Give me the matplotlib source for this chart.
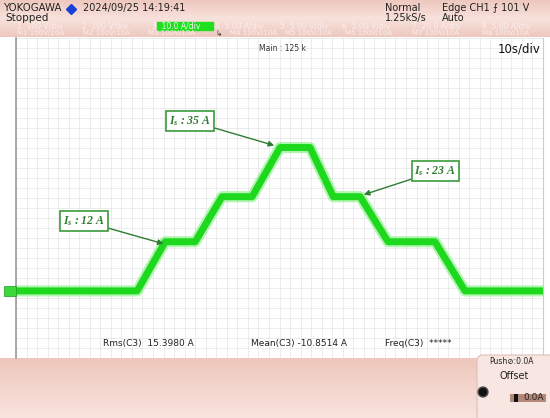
import numpy as np
import matplotlib
matplotlib.use("Agg")
import matplotlib.pyplot as plt
from matplotlib.patches import Rectangle, FancyBboxPatch, Circle

plt.rcParams['font.family'] = ['Liberation Sans Narrow', 'DejaVu Sans']
plt.rcParams['mathtext.fontset'] = 'custom'
plt.rcParams['mathtext.it'] = 'Liberation Serif:italic:bold'
plt.rcParams['mathtext.rm'] = 'Liberation Serif:italic:bold'

# ---- data ----
time_s = [0, 23.0, 28.3, 34.0, 39.1, 44.8, 50.1, 55.8, 60.2, 65.3, 70.6, 79.5, 85.2, 100]
current_a = [0, 0, 12, 12, 23, 23, 35, 35, 23, 23, 12, 12, 0, 0]
labels_text = ["$I_s$ : 12 A", "$I_s$ : 35 A", "$I_s$ : 23 A"]
label_targets_t = [28.0, 49.0, 66.0]
label_targets_i = [11.5, 35.5, 23.5]
channels = ["1  100 V/div", "2  100 V/div", "3  10.0 A/div", "4  5.00 A/div",
            "5  5.00 V/div", "6  5.00 V/div", "7  20.0 A/div", "8  5.00 A/div"]
maths = ["M1 100V/10A", "M2 100V/10A", "M3 100V/10A", "M4 100V/10A",
         "M5 100V/10A", "M6 100V/10A", "M7 100V/10A", "M8 100V/10A"]

W, H = 550, 418
fig = plt.figure(figsize=(5.5, 4.18), dpi=100)

# background axes in pixel coordinates
bg = fig.add_axes([0, 0, 1, 1])
bg.set_xlim(0, W); bg.set_ylim(H, 0); bg.axis('off')
bg.set_zorder(0)

def vgrad(ax, y0, y1, x0, x1, c_top, c_mid, c_bot, z=0):
    n = 64
    t = np.linspace(0, 1, n)[:, None]
    ct, cm, cb = [np.array(c) / 255 for c in (c_top, c_mid, c_bot)]
    img = np.where(t < 0.5, ct + (cm - ct) * (t / 0.5), cm + (cb - cm) * ((t - 0.5) / 0.5))
    img = np.repeat(img[:, None, :], 2, axis=1)
    ax.imshow(img, extent=[x0, x1, y1, y0], aspect='auto', zorder=z, interpolation='bilinear')

bg.add_patch(Rectangle((0, 0), W, H, color='white', zorder=-1))
vgrad(bg, 0, 37, 0, W, (238, 200, 190), (248, 226, 220), (238, 200, 190))
vgrad(bg, 358, H, 0, W, (238, 198, 188), (244, 214, 206), (248, 228, 222))
bg.set_xlim(0, W); bg.set_ylim(H, 0)

# header text
bg.text(4, 8, "YOKOGAWA", fontsize=7.3, color='#222222', va='center', ha='left')
bg.plot([71], [8.5], marker='D', color='#1a3fd6', markersize=5)
bg.text(83, 8, "2024/09/25 14:19:41", fontsize=7, color='#222222', va='center', ha='left')
bg.text(5, 18, "Stopped", fontsize=7.5, color='#222222', va='center', ha='left')
bg.text(385, 8, "Normal", fontsize=7, color='#222222', va='center', ha='left')
bg.text(385, 18, "1.25kS/s", fontsize=7, color='#222222', va='center', ha='left')
bg.text(442, 8, "Edge CH1 \u2A0D 101 V", fontsize=7, color='#222222', va='center', ha='left')
bg.text(442, 18, "Auto", fontsize=7, color='#222222', va='center', ha='left')

xs = [17, 82, 152, 215, 280, 342, 412, 482]
xs_m = [17, 83, 148, 230, 285, 345, 412, 482]
for i, (x, xm, ch, m) in enumerate(zip(xs, xs_m, channels, maths)):
    if i == 2:
        bg.add_patch(Rectangle((x + 5, 22), 56, 8, color='#1ee01e', zorder=2))
        bg.text(x, 26, ch, fontsize=5.5, color='#f8f8f8', va='center', ha='left', zorder=3)
    else:
        bg.text(x, 26, ch, fontsize=5.5, color='#fbeeea', va='center', ha='left', zorder=3)
    bg.text(xm, 33, m, fontsize=5, color='#fbeeea', va='center', ha='left', zorder=3)
bg.text(219, 34.5, "\u21B3", fontsize=5.5, color='#333333', va='center', ha='center', zorder=3)

# ---- scope axes ----
px_per_a = 4.096
base_pix = 290.9
top_pix, bot_pix, left_pix, right_pix = 38, 358, 16, 543
ymax = (base_pix - top_pix) / px_per_a
ymin = -(bot_pix - base_pix) / px_per_a
ax = fig.add_axes([left_pix / W, (H - bot_pix) / H, (right_pix - left_pix) / W, (bot_pix - top_pix) / H])
ax.set_zorder(1)
ax.set_facecolor('white')
ax.set_xlim(0, 100)
ax.set_ylim(ymin, ymax)
for x in np.arange(0, 100.01, 2):
    ax.axvline(x, color='#e4e4e4', lw=0.5, zorder=0)
for frac in np.linspace(0, 1, 33):
    ax.axhline(ymin + frac * (ymax - ymin), color='#e4e4e4', lw=0.5, zorder=0)
ax.set_xticks([]); ax.set_yticks([])
for s in ax.spines.values():
    s.set_visible(False)
ax.spines['left'].set_visible(True)
ax.spines['left'].set_color('#999999')
ax.spines['left'].set_linewidth(1.2)
ax.spines['right'].set_visible(True)
ax.spines['right'].set_color('#cccccc')

ax.plot(time_s, current_a, color='#7ef07e', lw=8, alpha=0.6, solid_joinstyle='round', zorder=3)
ax.plot(time_s, current_a, color='#1ed81e', lw=5, solid_joinstyle='round', zorder=4)

ax.text(0.505, 0.982, "Main : 125 k", transform=ax.transAxes, fontsize=5.5, color='#333333', ha='center', va='top')
ax.text(0.995, 0.985, "10s/div", transform=ax.transAxes, fontsize=8.5, color='#111111', ha='right', va='top')

ax.text(0.165, 0.045, "Rms(C3)  15.3980 A", transform=ax.transAxes, fontsize=6.5, color='#222222', ha='left', va='center')
ax.text(0.445, 0.045, "Mean(C3) -10.8514 A", transform=ax.transAxes, fontsize=6.5, color='#222222', ha='left', va='center')
ax.text(0.70, 0.045, "Freq(C3)  *****", transform=ax.transAxes, fontsize=6.5, color='#222222', ha='left', va='center')

# label boxes (text positions in data coords)
box_t = [12.9, 33.1, 79.6]
box_i = [17.0, 41.5, 29.2]
for txt, bt, bi, tt, ti in zip(labels_text, box_t, box_i, label_targets_t, label_targets_i):
    ax.annotate(txt, xy=(tt, ti), xytext=(bt, bi), textcoords='data',
                fontsize=8.5, color='#2f7d32', family='Liberation Serif', style='italic', weight='bold',
                ha='center', va='center', zorder=6,
                bbox=dict(boxstyle='square,pad=0.25', fc='white', ec='#3c9a3c', lw=1.2),
                arrowprops=dict(arrowstyle='-|>', color='#2f7d32', lw=1.0, mutation_scale=8,
                                shrinkA=0, shrinkB=0))

# overlay axes for the channel marker and offset panel
ov = fig.add_axes([0, 0, 1, 1])
ov.set_xlim(0, W); ov.set_ylim(H, 0); ov.axis('off')
ov.set_zorder(2)
ov.patch.set_alpha(0)
ov.add_patch(Rectangle((4, base_pix - 5), 12, 10, facecolor='#3bd83b', edgecolor='#1a9a1a', lw=0.5, zorder=3))
ov.add_patch(FancyBboxPatch((477, 355), 80, 70, boxstyle="round,pad=0,rounding_size=6",
                            facecolor='#f7e6e1', edgecolor='#e0c0b8', lw=0.8, zorder=4))
ov.add_patch(Circle((483, 392), 5, facecolor='#111111', edgecolor='#555555', lw=1, zorder=5))
ov.text(512, 362, "Push\u2298:0.0A", fontsize=5.5, color='#222222', ha='center', va='center', zorder=6)
ov.text(514, 376, "Offset", fontsize=7, color='#222222', ha='center', va='center', zorder=6)
ov.add_patch(Rectangle((510, 394), 36, 8, facecolor='#b48878', edgecolor='none', zorder=5))
ov.add_patch(Rectangle((514, 394), 4, 8, facecolor='#111111', edgecolor='none', zorder=6))
ov.text(544, 398, "0.0A", fontsize=6.5, color='#222222', ha='right', va='center', zorder=7)

fig.savefig("out.png", dpi=100)
